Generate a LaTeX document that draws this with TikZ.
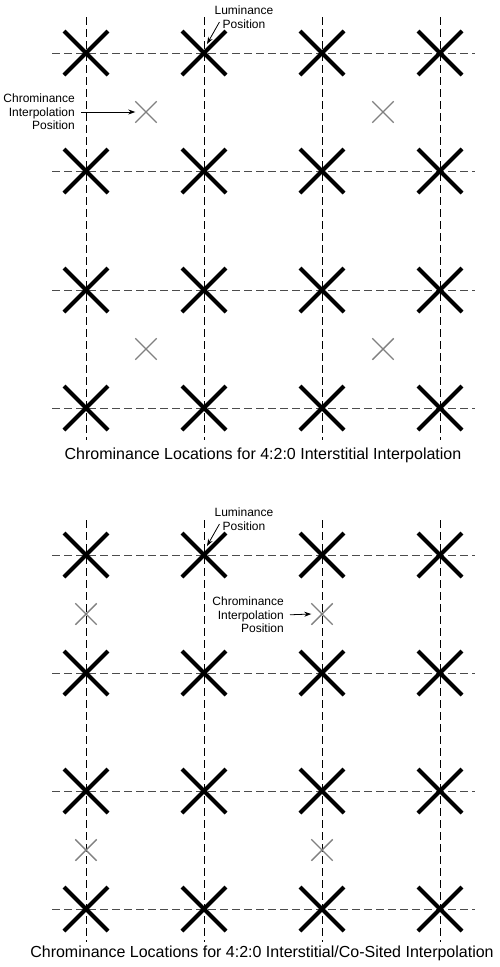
\documentclass[tikz,border=0pt]{standalone}
\usepackage{fontspec}
\setmainfont{Liberation Sans}
\usetikzlibrary{shapes.misc,arrows.meta}
\begin{document}
\begin{tikzpicture}[x=1pt,y=-1pt,
  lum/.style={draw,cross out,minimum size=40pt,inner sep=0pt,line width=4pt},
  chr/.style={draw=black!50,cross out,minimum size=20pt,inner sep=0pt,line width=1.4pt},
  hline/.style={draw=black!70,line width=0.9pt,dash pattern=on 8pt off 4pt},
  vline/.style={draw=black,line width=0.9pt,dash pattern=on 8pt off 4pt},
  lbl/.style={font=\fontsize{12}{13.5}\selectfont,inner sep=0pt},
  captiontext/.style={font=\fontsize{16}{18}\selectfont,inner sep=0pt},
  pointer/.style={line width=0.8pt,-{Stealth[length=7pt,width=5pt]}}]
\useasboundingbox (0,0) rectangle (500,967);

% top panel: interstitial
\coordinate (a00) at (86,53);
\coordinate (a01) at (204,53);
\coordinate (a02) at (322,53);
\coordinate (a03) at (440,53);
\coordinate (a10) at (86,171);
\coordinate (a11) at (204,171);
\coordinate (a12) at (322,171);
\coordinate (a13) at (440,171);
\coordinate (a20) at (86,290);
\coordinate (a21) at (204,290);
\coordinate (a22) at (322,290);
\coordinate (a23) at (440,290);
\coordinate (a30) at (86,408);
\coordinate (a31) at (204,408);
\coordinate (a32) at (322,408);
\coordinate (a33) at (440,408);

\draw[hline] ([xshift=-34pt]a00) -- ([xshift=35pt]a03);
\draw[hline] ([xshift=-34pt]a10) -- ([xshift=35pt]a13);
\draw[hline] ([xshift=-34pt]a20) -- ([xshift=35pt]a23);
\draw[hline] ([xshift=-34pt]a30) -- ([xshift=35pt]a33);
\draw[vline] ([yshift=36pt]a00) -- ([yshift=-32pt]a30);
\draw[vline] ([yshift=36pt]a01) -- ([yshift=-32pt]a31);
\draw[vline] ([yshift=36pt]a02) -- ([yshift=-32pt]a32);
\draw[vline] ([yshift=36pt]a03) -- ([yshift=-32pt]a33);

\node[lum] (la00) at (a00) {};
\node[lum] (la01) at (a01) {};
\node[lum] (la02) at (a02) {};
\node[lum] (la03) at (a03) {};
\node[lum] (la10) at (a10) {};
\node[lum] (la11) at (a11) {};
\node[lum] (la12) at (a12) {};
\node[lum] (la13) at (a13) {};
\node[lum] (la20) at (a20) {};
\node[lum] (la21) at (a21) {};
\node[lum] (la22) at (a22) {};
\node[lum] (la23) at (a23) {};
\node[lum] (la30) at (a30) {};
\node[lum] (la31) at (a31) {};
\node[lum] (la32) at (a32) {};
\node[lum] (la33) at (a33) {};

\node[chr] (ca0) at (146,112) {};
\node[chr] (ca1) at (383,112) {};
\node[chr] (ca2) at (146,349) {};
\node[chr] (ca3) at (383,349) {};

\node[lbl,align=center] (lumA) at (244,17) {Luminance\\Position};
\draw[pointer] ([shift={(5,5)}]lumA.west) -- ([shift={(3,-9)}]la01.center);
\node[lbl,align=right,anchor=east] (chrA) at (75,112) {Chrominance\\Interpolation\\Position};
\draw[pointer,shorten <=6pt] (chrA.east) -- (ca0.west);
\node[captiontext] (capA) at (263,455) {Chrominance Locations for 4:2:0 Interstitial Interpolation};

% bottom panel: interstitial / co-sited
\coordinate (b00) at (86,555);
\coordinate (b01) at (204,555);
\coordinate (b02) at (322,555);
\coordinate (b03) at (440,555);
\coordinate (b10) at (86,673);
\coordinate (b11) at (204,673);
\coordinate (b12) at (322,673);
\coordinate (b13) at (440,673);
\coordinate (b20) at (86,791);
\coordinate (b21) at (204,791);
\coordinate (b22) at (322,791);
\coordinate (b23) at (440,791);
\coordinate (b30) at (86,909);
\coordinate (b31) at (204,909);
\coordinate (b32) at (322,909);
\coordinate (b33) at (440,909);

\draw[hline] ([xshift=-34pt]b00) -- ([xshift=35pt]b03);
\draw[hline] ([xshift=-34pt]b10) -- ([xshift=35pt]b13);
\draw[hline] ([xshift=-34pt]b20) -- ([xshift=35pt]b23);
\draw[hline] ([xshift=-34pt]b30) -- ([xshift=35pt]b33);
\draw[vline] ([yshift=35pt]b00) -- ([yshift=-33pt]b30);
\draw[vline] ([yshift=35pt]b01) -- ([yshift=-33pt]b31);
\draw[vline] ([yshift=35pt]b02) -- ([yshift=-33pt]b32);
\draw[vline] ([yshift=35pt]b03) -- ([yshift=-33pt]b33);

\node[lum] (lb00) at (b00) {};
\node[lum] (lb01) at (b01) {};
\node[lum] (lb02) at (b02) {};
\node[lum] (lb03) at (b03) {};
\node[lum] (lb10) at (b10) {};
\node[lum] (lb11) at (b11) {};
\node[lum] (lb12) at (b12) {};
\node[lum] (lb13) at (b13) {};
\node[lum] (lb20) at (b20) {};
\node[lum] (lb21) at (b21) {};
\node[lum] (lb22) at (b22) {};
\node[lum] (lb23) at (b23) {};
\node[lum] (lb30) at (b30) {};
\node[lum] (lb31) at (b31) {};
\node[lum] (lb32) at (b32) {};
\node[lum] (lb33) at (b33) {};

\node[chr] (cb0) at (86,614) {};
\node[chr] (cb1) at (322,614) {};
\node[chr] (cb2) at (86,850) {};
\node[chr] (cb3) at (322,850) {};

\node[lbl,align=center] (lumB) at (244,519) {Luminance\\Position};
\draw[pointer] ([shift={(5,5)}]lumB.west) -- ([shift={(3,-9)}]lb01.center);
\node[lbl,align=right,anchor=east] (chrB) at (284,615) {Chrominance\\Interpolation\\Position};
\draw[pointer,shorten <=6pt] (chrB.east) -- (cb1.west);
\node[captiontext] (capB) at (262,953) {Chrominance Locations for 4:2:0 Interstitial/Co-Sited Interpolation};
\end{tikzpicture}
\end{document}
